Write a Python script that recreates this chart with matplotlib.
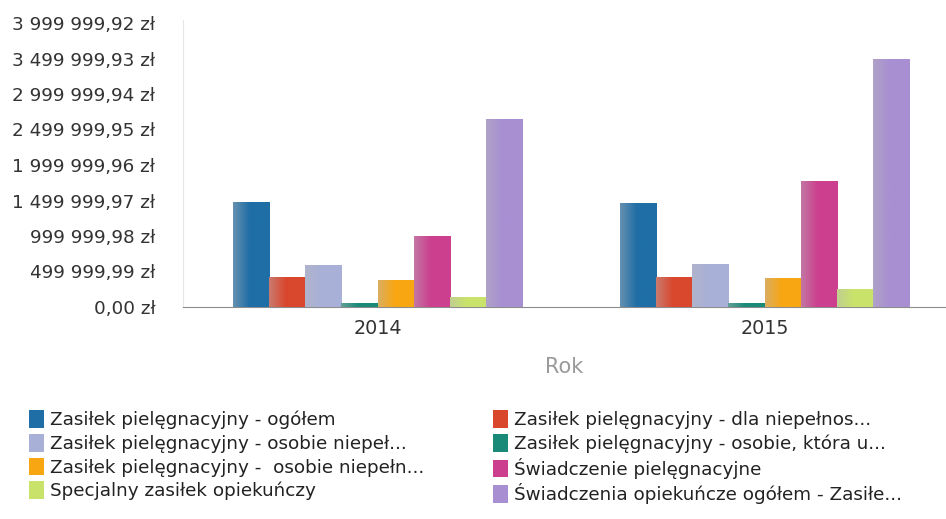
import matplotlib

matplotlib.use("Agg")

import matplotlib.pyplot as plt
import numpy as np
from matplotlib.colors import to_rgb
from matplotlib.patches import Patch

plt.rcParams["font.family"] = ["DejaVu Sans"]

years = ["2014", "2015"]
series_names = [
    "Zasiłek pielęgnacyjny - ogółem",
    "Zasiłek pielęgnacyjny - dla niepełnos...",
    "Zasiłek pielęgnacyjny - osobie niepeł...",
    "Zasiłek pielęgnacyjny - osobie, która u...",
    "Zasiłek pielęgnacyjny -  osobie niepełn...",
    "Świadczenie pielęgnacyjne",
    "Specjalny zasiłek opiekuńczy",
    "Świadczenia opiekuńcze ogółem - Zasiłe...",
]
values_2014 = [1483000, 427000, 591000, 52000, 380000, 1004000, 137000, 2648000]
values_2015 = [1469000, 418000, 610000, 61000, 415000, 1768000, 256000, 3496000]
colors = ["#1f6ea6", "#d9472d", "#a9b0d8", "#1a8a78", "#f8a612",
          "#cc3f8e", "#c9e36a", "#a88fd2"]
tick_step = 499999.99

W, H = 946, 519
fig = plt.figure(figsize=(W / 100, H / 100), dpi=100)
ax = fig.add_axes([183 / W, 1 - 307 / H, (W - 183) / W, (307 - 20) / H])

values = np.array([values_2014, values_2015])
x = np.arange(len(years))
n = len(series_names)
bar_w = 0.0935


def shade(color):
    # horizontal gradient: slightly washed-out left edge, full colour on the right
    base = np.array(to_rgb(color))
    grey = base * 0.55 + np.array([0.72, 0.72, 0.74]) * 0.45
    t = np.linspace(0, 1, 32)
    ramp = np.clip(t * 2.2, 0, 1)
    row = grey[None, :] * (1 - ramp[:, None]) + base[None, :] * ramp[:, None]
    return row[None, :, :]


for i in range(n):
    offs = (i - (n - 1) / 2) * bar_w
    bars = ax.bar(x + offs, values[:, i], width=bar_w, color=colors[i],
                  edgecolor="none", zorder=2)
    for b in bars:
        x0, y0 = b.get_x(), b.get_y()
        img = ax.imshow(shade(colors[i]), extent=(x0, x0 + b.get_width(), y0, y0 + b.get_height()),
                        aspect="auto", interpolation="bilinear", zorder=3)
        img.set_clip_path(b)

ax.set_xlim(-0.503, 1.469)
ax.set_ylim(0, tick_step * 8 * 287 / 284)
ticks = np.arange(9) * tick_step


def fmt(v):
    return f"{v:,.2f}".replace(",", " ").replace(".", ",") + " zł"


ax.set_yticks(ticks)
ax.set_yticklabels([fmt(t) for t in ticks])
ax.set_xticks(x)
ax.set_xticklabels(years)
ax.tick_params(axis="y", length=0, pad=20, labelsize=13.2, labelcolor="#333333")
ax.tick_params(axis="x", length=0, pad=9, labelsize=13.8, labelcolor="#333333")
for side in ["top", "right"]:
    ax.spines[side].set_visible(False)
ax.spines["left"].set_color("#e6e6e6")
ax.spines["bottom"].set_color("#8c8c8c")
ax.spines["bottom"].set_linewidth(0.8)
ax.set_xlabel("Rok", fontsize=15, color="#9a9a9a", labelpad=13)

handles = [Patch(facecolor=c, edgecolor="none") for c in colors]
for col, x0 in [(0, 22 / W), (1, 486 / W)]:
    idx = [col + 2 * r for r in range(4)]
    fig.legend([handles[k] for k in idx], [series_names[k] for k in idx],
               loc="upper left", bbox_to_anchor=(x0, 1 - 403 / H),
               frameon=False, fontsize=13.2, handlelength=0.8, handleheight=1.1,
               handletextpad=0.35, labelspacing=0.25, borderaxespad=0,
               labelcolor="#222222")

fig.savefig("out.png", dpi=100)
